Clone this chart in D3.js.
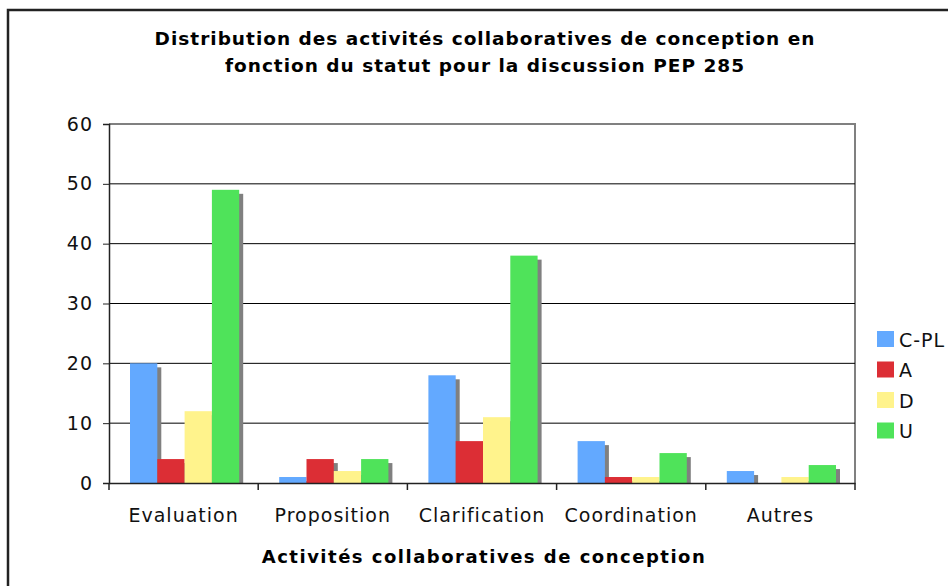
<!DOCTYPE html>
<html>
<head>
<meta charset="utf-8">
<script src="https://cdn.jsdelivr.net/npm/d3@7"></script>
<style>
  body { margin: 0; background: #fff; }
  svg { font-family: "DejaVu Sans", Verdana, sans-serif; }
</style>
</head>
<body>
<div id="chart"></div>
<script>
// data
const categories = ['Evaluation', 'Proposition', 'Clarification', 'Coordination', 'Autres'];
const series = ['C-PL', 'A', 'D', 'U'];
const valuesCPL = [20, 1, 18, 7, 2];
const valuesA = [4, 4, 7, 1, 0];
const valuesD = [12, 2, 11, 1, 1];
const valuesU = [49, 4, 38, 5, 3];
const yTicks = [0, 10, 20, 30, 40, 50, 60];

const colors = ['#63a9ff', '#dc2e35', '#fff38c', '#4fe35a'];

const width = 948, height = 586;
const margin = { top: 124, right: 93, bottom: 103, left: 109 };

const table = categories.map((c, i) => ({
  cat: c,
  vals: [valuesCPL[i], valuesA[i], valuesD[i], valuesU[i]]
}));

const x = d3.scaleBand()
  .domain(categories)
  .range([margin.left, width - margin.right])
  .paddingInner(0).paddingOuter(0);

const xs = d3.scaleBand()
  .domain(series)
  .range([21, x.bandwidth() - 19]);

const y = d3.scaleLinear()
  .domain([0, 60])
  .range([height - margin.bottom, margin.top]);

const color = d3.scaleOrdinal().domain(series).range(colors);

const svg = d3.create('svg')
  .attr('width', width)
  .attr('height', height);

// outer frame
svg.append('rect')
  .attr('x', 8).attr('y', 10)
  .attr('width', width + 10).attr('height', height + 10)
  .attr('fill', 'none')
  .attr('stroke', '#222')
  .attr('stroke-width', 2.5);

// title
svg.append('text')
  .attr('x', 485).attr('y', 45)
  .attr('text-anchor', 'middle')
  .attr('font-weight', 'bold')
  .attr('font-size', 18.5)
  .attr('letter-spacing', 1)
  .selectAll('tspan')
  .data(['Distribution des activités collaboratives de conception en',
         'fonction du statut pour la discussion PEP 285'])
  .join('tspan')
  .attr('x', 485)
  .attr('dy', (d, i) => i ? 27 : 0)
  .text(d => d);

// plot frame (top & right gray)
svg.append('path')
  .attr('d', `M${margin.left},${margin.top}H${width - margin.right}V${height - margin.bottom}`)
  .attr('fill', 'none')
  .attr('stroke', '#808080')
  .attr('stroke-width', 2);

// gridlines
svg.append('g')
  .selectAll('line')
  .data(yTicks.filter(t => t > 0 && t < 60))
  .join('line')
  .attr('x1', margin.left).attr('x2', width - margin.right)
  .attr('y1', d => y(d)).attr('y2', d => y(d))
  .attr('stroke', '#000')
  .attr('stroke-width', 1);

// bars
const groups = svg.append('g')
  .selectAll('g')
  .data(table)
  .join('g')
  .attr('transform', d => `translate(${x(d.cat)},0)`);

// shadows first
groups.selectAll('rect.shadow')
  .data(d => d.vals.map((v, i) => ({ s: series[i], v })).filter(e => e.v > 0))
  .join('rect')
  .attr('class', 'shadow')
  .attr('x', d => xs(d.s) + 4)
  .attr('y', d => y(d.v) + 4)
  .attr('width', xs.bandwidth())
  .attr('height', d => y(0) - y(d.v) - 4)
  .attr('fill', '#808080');

groups.selectAll('rect.bar')
  .data(d => d.vals.map((v, i) => ({ s: series[i], v })).filter(e => e.v > 0))
  .join('rect')
  .attr('class', 'bar')
  .attr('x', d => xs(d.s))
  .attr('y', d => y(d.v))
  .attr('width', xs.bandwidth())
  .attr('height', d => y(0) - y(d.v))
  .attr('fill', d => color(d.s));

// y axis
const yAxis = svg.append('g')
  .attr('transform', `translate(${margin.left},0)`)
  .call(d3.axisLeft(y).tickValues(yTicks).tickSize(6).tickPadding(10))
  .call(g => g.select('.domain').attr('stroke', '#222').attr('stroke-width', 1.5));
yAxis.selectAll('.tick line').attr('stroke', '#222');
yAxis.selectAll('text')
  .attr('font-family', '"DejaVu Sans", Verdana, sans-serif')
  .attr('font-size', 19)
  .attr('letter-spacing', 1)
  .attr('fill', '#111');

// x axis
const xAxis = svg.append('g')
  .attr('transform', `translate(0,${y(0)})`)
  .call(d3.axisBottom(x).tickSize(0).tickPadding(26))
  .call(g => g.select('.domain').attr('stroke', '#222').attr('stroke-width', 1.5));
xAxis.selectAll('text')
  .attr('font-family', '"DejaVu Sans", Verdana, sans-serif')
  .attr('font-size', 19)
  .attr('letter-spacing', 1)
  .attr('fill', '#111');
// category boundary ticks
xAxis.selectAll('line.sep')
  .data(categories.map(c => x(c)).concat([width - margin.right]))
  .join('line')
  .attr('class', 'sep')
  .attr('x1', d => d).attr('x2', d => d)
  .attr('y1', 0).attr('y2', 7)
  .attr('stroke', '#222')
  .attr('stroke-width', 1.5);

// axis title
svg.append('text')
  .attr('x', (margin.left + width - margin.right) / 2 + 2)
  .attr('y', 563)
  .attr('text-anchor', 'middle')
  .attr('font-weight', 'bold')
  .attr('font-size', 18)
  .attr('letter-spacing', 1.5)
  .text('Activités collaboratives de conception');

// legend
const legend = svg.append('g')
  .attr('transform', 'translate(877,331)')
  .selectAll('g')
  .data(series)
  .join('g')
  .attr('transform', (d, i) => `translate(0,${i * 30.5})`);
legend.append('rect')
  .attr('width', 17).attr('height', 16)
  .attr('fill', d => color(d));
legend.append('text')
  .attr('x', 22).attr('y', 15.5)
  .attr('font-size', 19)
  .attr('letter-spacing', 1)
  .attr('fill', '#111')
  .text(d => d);

document.getElementById('chart').appendChild(svg.node());
</script>
</body>
</html>
